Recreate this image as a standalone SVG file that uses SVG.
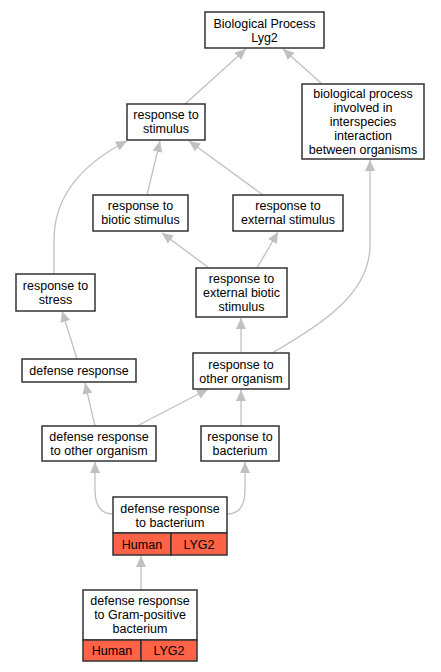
<svg xmlns="http://www.w3.org/2000/svg" width="441" height="672" viewBox="0 0 441 672">
<style>
.n rect{fill:#fff;stroke:#333;stroke-width:1.5}
.n rect.c{fill:#ff6347}
text{font-family:"Liberation Sans",Arial,sans-serif;font-size:12.5px;fill:#000;text-anchor:middle}
.e path{fill:none;stroke:#c0c0c0;stroke-width:1.3;marker-end:url(#ah)}
</style>
<defs>
<marker id="ah" markerUnits="userSpaceOnUse" markerWidth="12" markerHeight="10" refX="11" refY="5" orient="auto" viewBox="0 0 12 10">
<path d="M0,0 L11,5 L0,10 z" fill="#c0c0c0"/>
</marker>
</defs>
<g id="edges" class="e">
<path d="M185,104 L246,49"/>
<path d="M322,84 L283,49"/>
<path d="M147,195 L160,141"/>
<path d="M263,195 L189,141"/>
<path d="M54,274 L54,240 C54,190 90,160 127,141"/>
<path d="M209,268 L162,233"/>
<path d="M257,268 L278,232"/>
<path d="M77,359 L62,311"/>
<path d="M241,353 L241,318"/>
<path d="M272,353 C330,320 370,290 370,245 L370,160"/>
<path d="M95,426 L85,383"/>
<path d="M137,426 L208,389"/>
<path d="M241,426 L241,390"/>
<path d="M113,514 C100,514 95,505 95,490 L95,462"/>
<path d="M227,514 C240,514 245,505 245,490 L245,462"/>
<path d="M141,590 L141,556"/>
</g>
<g id="n1" class="n"><rect x="205" y="12" width="119" height="36"/><text x="264.5" y="27.5">Biological Process</text><text x="264.5" y="41.5">Lyg2</text></g>
<g id="n2" class="n"><rect x="302" y="84" width="122" height="75"/><text x="363" y="98">biological process</text><text x="363" y="112">involved in</text><text x="363" y="126">interspecies</text><text x="363" y="140">interaction</text><text x="363" y="154">between organisms</text></g>
<g id="n3" class="n"><rect x="127" y="104" width="78" height="36"/><text x="166" y="119">response to</text><text x="166" y="133">stimulus</text></g>
<g id="n4" class="n"><rect x="93" y="195" width="95" height="36"/><text x="140.5" y="210">response to</text><text x="140.5" y="224">biotic stimulus</text></g>
<g id="n5" class="n"><rect x="233" y="195" width="110" height="36"/><text x="288" y="210">response to</text><text x="288" y="224">external stimulus</text></g>
<g id="n6" class="n"><rect x="16" y="274" width="79" height="37"/><text x="55.5" y="290">response to</text><text x="55.5" y="304">stress</text></g>
<g id="n7" class="n"><rect x="196" y="268" width="91" height="49"/><text x="241.5" y="283">response to</text><text x="241.5" y="297">external biotic</text><text x="241.5" y="311">stimulus</text></g>
<g id="n8" class="n"><rect x="22" y="359" width="114" height="23"/><text x="79" y="375">defense response</text></g>
<g id="n9" class="n"><rect x="193" y="353" width="96" height="36"/><text x="241" y="368.5">response to</text><text x="241" y="382.5">other organism</text></g>
<g id="n10" class="n"><rect x="42" y="426" width="114" height="35"/><text x="99" y="441">defense response</text><text x="99" y="455">to other organism</text></g>
<g id="n11" class="n"><rect x="201" y="426" width="78" height="35"/><text x="240" y="441">response to</text><text x="240" y="455">bacterium</text></g>
<g id="n12" class="n"><rect x="113" y="497" width="114" height="36"/><rect class="c" x="113" y="533" width="58" height="22"/><rect class="c" x="171" y="533" width="56" height="22"/><text x="170" y="512.5">defense response</text><text x="170" y="526.5">to bacterium</text><text x="142" y="548.5">Human</text><text x="199" y="548.5">LYG2</text></g>
<g id="n13" class="n"><rect x="83" y="590" width="114" height="50"/><rect class="c" x="83" y="640" width="58" height="21"/><rect class="c" x="141" y="640" width="56" height="21"/><text x="140" y="605">defense response</text><text x="140" y="619">to Gram-positive</text><text x="140" y="633">bacterium</text><text x="112" y="655">Human</text><text x="169" y="655">LYG2</text></g>
</svg>
